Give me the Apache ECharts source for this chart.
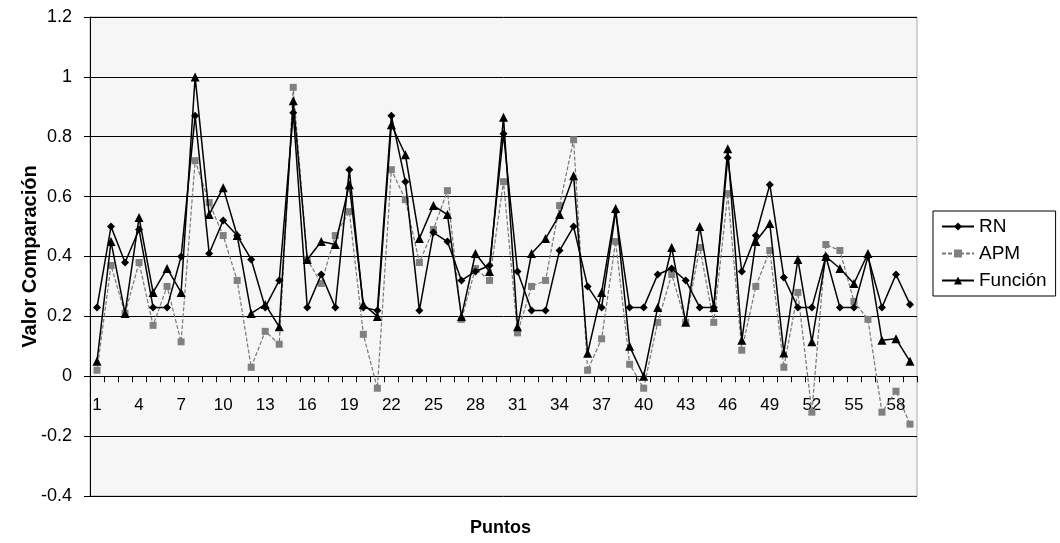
<!DOCTYPE html>
<html>
<head>
<meta charset="utf-8">
<script src="https://cdn.jsdelivr.net/npm/echarts@6/dist/echarts.min.js"></script>
<style>
html,body{margin:0;padding:0;background:#fff;}
#chart{width:1060px;height:543px;}
</style>
</head>
<body>
<div id="chart"></div>
<script>
const categories = Array.from({length: 59}, (_, i) => String(i + 1));
const rn = [0.23,0.50,0.38,0.49,0.23,0.23,0.40,0.87,0.41,0.52,
            0.47,0.39,0.23,0.32,0.88,0.23,0.34,0.23,0.69,0.23,
            0.22,0.87,0.65,0.22,0.48,0.45,0.32,0.35,0.37,0.81,
            0.35,0.22,0.22,0.42,0.50,0.30,0.23,0.55,0.23,0.23,
            0.34,0.36,0.32,0.23,0.23,0.73,0.35,0.47,0.64,0.33,
            0.23,0.23,0.40,0.23,0.23,0.40,0.23,0.34,0.24];
const apm = [0.02,0.37,0.21,0.38,0.17,0.30,0.115,0.72,0.58,0.47,
             0.32,0.03,0.15,0.107,0.965,0.39,0.31,0.47,0.55,0.14,
             -0.04,0.69,0.59,0.38,0.49,0.62,0.19,0.36,0.32,0.65,
             0.145,0.30,0.32,0.57,0.79,0.02,0.125,0.45,0.04,-0.04,
             0.18,0.34,0.18,0.43,0.18,0.61,0.087,0.30,0.42,0.03,
             0.28,-0.12,0.44,0.42,0.25,0.19,-0.12,-0.05,-0.16];
const funcion = [0.05,0.45,0.21,0.53,0.28,0.36,0.28,1.00,0.54,0.63,
                 0.47,0.21,0.24,0.165,0.92,0.39,0.45,0.44,0.64,0.24,
                 0.20,0.84,0.74,0.46,0.57,0.54,0.20,0.41,0.35,0.865,
                 0.165,0.41,0.46,0.54,0.67,0.077,0.28,0.56,0.10,0.00,
                 0.23,0.43,0.18,0.50,0.23,0.76,0.12,0.45,0.51,0.078,
                 0.39,0.115,0.40,0.36,0.31,0.41,0.12,0.125,0.05];
const seriesNames = ['RN', 'APM', 'Función'];
const yTicks = {min: -0.4, max: 1.2, interval: 0.2};

const chart = echarts.init(document.getElementById('chart'), null, {renderer: 'canvas'});
const font = 'Liberation Sans, Arial, sans-serif';
chart.setOption({
  animation: false,
  backgroundColor: '#fff',
  textStyle: {fontFamily: font},
  grid: [
    {left: 90, right: 143, top: 17, bottom: 47, show: true,
     backgroundColor: '#f6f6f6', borderColor: '#aaa', borderWidth: 1},
    // label-only grid whose bottom edge sits on the zero line (y value 0)
    {left: 90, right: 143, top: 17, bottom: 167, show: false}
  ],
  legend: {
    orient: 'vertical', left: 933, top: 211, width: 122,
    data: seriesNames,
    itemWidth: 32, itemHeight: 10, itemGap: 8,
    padding: [6, 9, 6, 8],
    borderColor: '#000', borderWidth: 1, backgroundColor: '#fff',
    textStyle: {fontFamily: font, fontSize: 19, color: '#000'}
  },
  xAxis: [{
    type: 'category', data: categories, boundaryGap: true, gridIndex: 0,
    axisLine: {onZero: true, lineStyle: {color: '#000', width: 1}},
    axisTick: {show: true, interval: 0, length: 6, lineStyle: {color: '#000'}},
    axisLabel: {show: false},
    splitLine: {show: false}
  }, {
    type: 'category', data: categories, boundaryGap: true, gridIndex: 1, position: 'bottom',
    axisLine: {show: false}, axisTick: {show: false},
    axisLabel: {interval: 2, margin: 21, fontSize: 17, color: '#000', fontFamily: font},
    splitLine: {show: false}
  }],
  yAxis: [{
    type: 'value', min: yTicks.min, max: yTicks.max, interval: yTicks.interval, gridIndex: 0,
    name: 'Valor Comparación', nameLocation: 'middle', nameGap: 50, nameMoveOverlap: false,
    nameTextStyle: {fontSize: 20, fontWeight: 'bold', color: '#000', fontFamily: font},
    axisLine: {show: true, lineStyle: {color: '#000'}},
    axisTick: {show: true, length: 6, lineStyle: {color: '#000'}},
    axisLabel: {fontSize: 18, color: '#000', margin: 18, fontFamily: font,
                formatter: v => String(+v.toFixed(1))},
    splitLine: {show: true, lineStyle: {color: '#000', width: 1}}
  }, {
    type: 'value', gridIndex: 1, min: 0, max: 1, show: false
  }],
  graphic: [{
    type: 'text', left: 470, top: 519,
    style: {text: 'Puntos', font: 'bold 18px ' + font, fill: '#000'}
  }],
  series: [
    {name: 'RN', type: 'line', data: rn, symbol: 'diamond', symbolSize: 8,
     lineStyle: {color: '#000', width: 1.5}, itemStyle: {color: '#000'}, z: 3},
    {name: 'APM', type: 'line', data: apm, symbol: 'rect', symbolSize: 7,
     lineStyle: {color: '#777', width: 1.2, type: [4, 2]}, itemStyle: {color: '#808080'}, z: 2},
    {name: 'Función', type: 'line', data: funcion, symbol: 'triangle', symbolSize: 9,
     lineStyle: {color: '#000', width: 1.5}, itemStyle: {color: '#000'}, z: 4}
  ]
});
</script>
</body>
</html>
